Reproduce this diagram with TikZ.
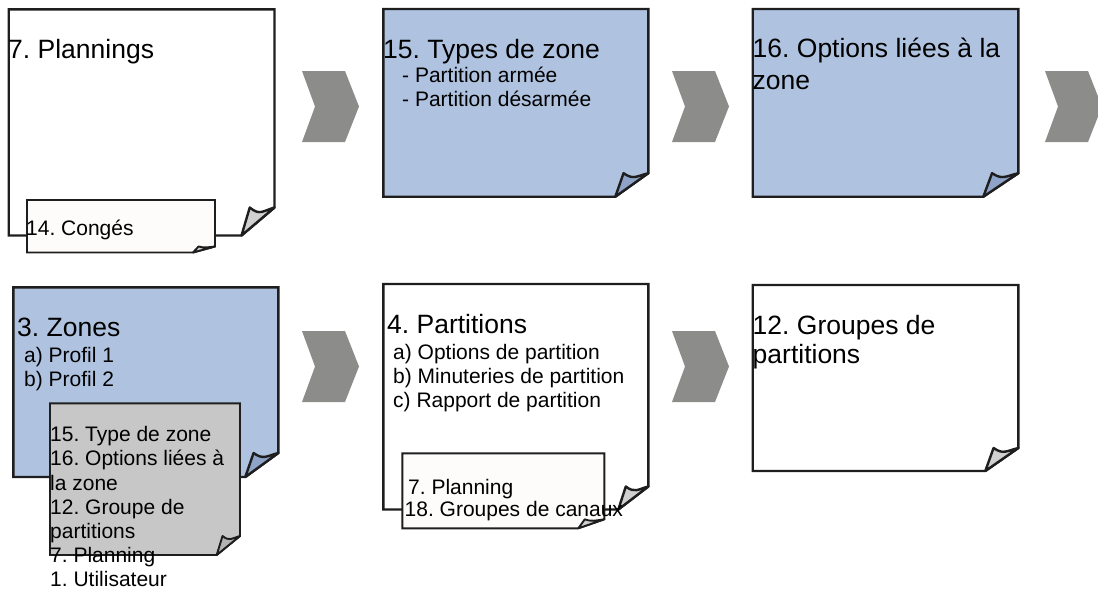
\documentclass[tikz,border=0pt]{standalone}
\usepackage{fontspec}
\setmainfont{Liberation Sans}
\frenchspacing
\usetikzlibrary{positioning}

\definecolor{noteblue}{RGB}{175,195,224}
\definecolor{foldblue}{RGB}{143,163,200}
\definecolor{foldgrey}{RGB}{208,208,208}
\definecolor{slipgrey}{RGB}{199,199,199}
\definecolor{slipfold}{RGB}{178,178,178}
\definecolor{slipwhite}{RGB}{253,252,250}
\definecolor{chevgrey}{RGB}{140,140,138}
\definecolor{inkline}{RGB}{30,30,30}

\tikzset{
  notepage/.style={draw=inkline, line width=2.4pt, fill=white},
  bluepage/.style={notepage, fill=noteblue},
  slip/.style={draw=inkline, line width=1.9pt, fill=slipwhite},
  greyslip/.style={slip, fill=slipgrey},
  head/.style={font=\fontsize{26.5}{31}\selectfont, inner sep=0pt, anchor=base west},
  item/.style={font=\fontsize{21}{24}\selectfont, inner sep=0pt, anchor=base west},
  chevron/.style={fill=chevgrey}
}

% sheet with a curled corner: x, y, width, height, fold width, fold height, style, fold colour
\newcommand{\curlnote}[8]{%
  \filldraw[#7] (#1,#2) -- (#1+#3,#2) -- (#1+#3,#2+#4-#6) -- (#1+#3-#5,#2+#4) -- (#1,#2+#4) -- cycle;
  \filldraw[#7, fill=#8, line join=round] (#1+#3-#5,#2+#4) -- (#1+#3-0.75*#5,#2+#4-#6)
    .. controls +(0.3*#5,0.3*#6) and +(-0.35*#5,0.12*#6) .. (#1+#3,#2+#4-#6) -- cycle;
}

\begin{document}
\begin{tikzpicture}[x=1pt,y=-1pt]
\useasboundingbox (0,0) rectangle (1098,597);
\clip (0,0) rectangle (1098,597);

% arrows between the sheets
\foreach \cx/\cy in {302/71,672/71,1045/71,302/331,672/331}
  \fill[chevron] (\cx,\cy) -- ++(43,0) -- ++(14,35.5) -- ++(-14,35.5) -- ++(-43,0) -- ++(13,-35.5) -- cycle;

% top row
\curlnote{8.7}{9.3}{265.8}{226.2}{33}{28}{notepage}{foldgrey}
\node[head] (plannings) at (8,58.3) {7. Plannings};
\curlnote{27}{200}{188}{52.5}{22}{6}{slip}{foldgrey}
\node[item] (conges) at (26,235.5) {14. Congés};

\curlnote{383.3}{9}{265}{187.7}{33}{23.5}{bluepage}{foldblue}
\node[head] (types) at (383,58) {15. Types de zone};
\foreach \txt [count=\i from 0] in {- Partition armée, - Partition désarmée}
  \node[item] (types-\i) at (402,82+24*\i) {\txt};

\curlnote{752.7}{9}{265.6}{187.7}{35}{23.5}{bluepage}{foldblue}
\node[head] (options) at (752.5,57.5) {16. Options liées à la};
\node[head] (options-2) at (752.5,89) {zone};

% bottom row
\curlnote{13.3}{287.3}{265}{189.7}{33}{24}{bluepage}{foldblue}
\node[head] (zones) at (17,336) {3. Zones};
\foreach \txt [count=\i from 0] in {a) Profil 1, b) Profil 2}
  \node[item] (zones-\i) at (24,362+24*\i) {\txt};
\curlnote{50}{403.3}{190}{151.7}{23.3}{19}{greyslip}{slipfold}
\foreach \txt [count=\i from 0] in {15. Type de zone, 16. Options liées à, la zone, 12. Groupe de, partitions, 7. Planning, 1. Utilisateur}
  \node[item] (zrefs-\i) at (50,441.7+24.2*\i) {\txt};

\curlnote{383.3}{284}{265}{225.5}{30}{23}{notepage}{foldgrey}
\node[head] (partitions) at (387,333) {4. Partitions};
\foreach \txt [count=\i from 0] in {a) Options de partition, b) Minuteries de partition, c) Rapport de partition}
  \node[item] (partitions-\i) at (393,359+24*\i) {\txt};
\curlnote{402.3}{453.3}{202}{75}{26}{9}{slip}{foldgrey}
\node[item] (prefs-0) at (408,494) {7. Planning};
\node[item] (prefs-1) at (404.5,516) {18. Groupes de canaux};

\curlnote{752.7}{285}{265.6}{186}{33}{23}{notepage}{foldgrey}
\node[head] (groupes) at (752.5,334.3) {12. Groupes de};
\node[head] (groupes-2) at (752.5,363.5) {partitions};
\end{tikzpicture}
\end{document}
